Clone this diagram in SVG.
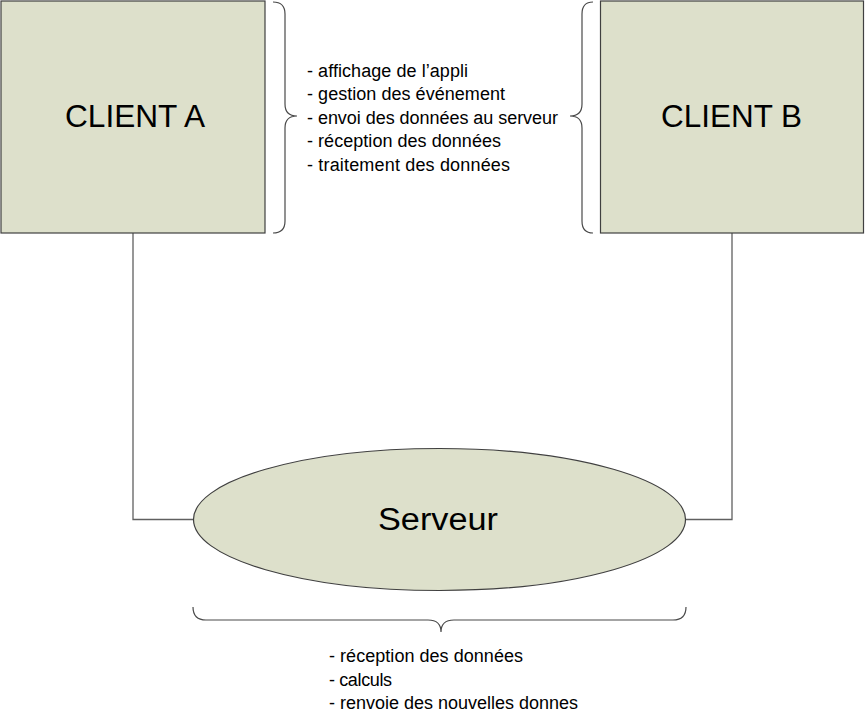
<svg xmlns="http://www.w3.org/2000/svg" width="865" height="726" viewBox="0 0 865 726">
<style>
.node{fill:#dde0cb;stroke:#404040;stroke-width:1.2}
.big{font-family:"Liberation Sans",Arial,sans-serif;font-size:31px;fill:#000}
.lbl{font-family:"Liberation Sans",Arial,sans-serif;font-size:18px;fill:#000}
.conn{fill:none;stroke:#606060;stroke-width:1.3}
.brace{fill:none;stroke:#4a4a4a;stroke-width:1.2}
</style>
<rect width="865" height="726" fill="#fff"/>
<g id="connectors">
<path class="conn" d="M133,233 L133,519.5 L193,519.5"/>
<path class="conn" d="M732,233 L732,519.5 L685,519.5"/>
</g>
<g id="clientA">
<rect class="node" x="1" y="1" width="264" height="232"/>
<text class="big" x="65" y="127" textLength="140" lengthAdjust="spacingAndGlyphs">CLIENT A</text>
</g>
<g id="clientB">
<rect class="node" x="600.5" y="1" width="263" height="232"/>
<text class="big" x="661" y="127" textLength="141" lengthAdjust="spacingAndGlyphs">CLIENT B</text>
</g>
<g id="serveur">
<ellipse class="node" cx="439.5" cy="519.5" rx="246" ry="71"/>
<text class="big" x="378" y="530" textLength="120" lengthAdjust="spacingAndGlyphs">Serveur</text>
</g>
<g id="braces">
<path class="brace" d="M273,2 Q285,2 285,14 L285,104 Q285,116 297,116 Q285,116 285,128 L285,221 Q285,233 273,233"/>
<path class="brace" d="M593,2 Q582,2 582,14 L582,104 Q582,116 570,116 Q582,116 582,128 L582,221 Q582,233 593,233"/>
<path class="brace" d="M193,607 Q193,620 206,620 L428,620 Q441,620 441,632 Q441,620 454,620 L673,620 Q686,620 686,607"/>
</g>
<g id="client-tasks">
<text class="lbl" x="307" y="76.5" textLength="161">- affichage de l’appli</text>
<text class="lbl" x="307" y="100" textLength="198">- gestion des événement</text>
<text class="lbl" x="307" y="123.5" textLength="251">- envoi des données au serveur</text>
<text class="lbl" x="307" y="147" textLength="194">- réception des données</text>
<text class="lbl" x="307" y="170.5" textLength="203">- traitement des données</text>
</g>
<g id="server-tasks">
<text class="lbl" x="329" y="662" textLength="194">- réception des données</text>
<text class="lbl" x="329" y="685.5" textLength="63">- calculs</text>
<text class="lbl" x="329" y="709" textLength="249">- renvoie des nouvelles donnes</text>
</g>
</svg>
